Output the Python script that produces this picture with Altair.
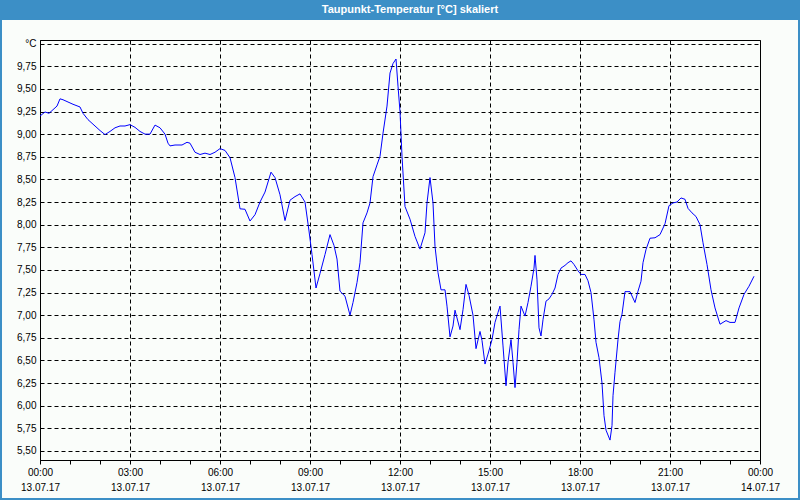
import altair as alt
import pandas as pd

TITLE = "Taupunkt-Temperatur [°C] skaliert"

# minutes after 13.07.17 00:00
minutes = [
    0, 10, 18, 24, 34, 40, 46, 56, 66, 80,
    86, 96, 110, 120, 130, 140, 150, 160, 170, 180,
    190, 200, 210, 220, 230, 240, 250, 256, 260, 270,
    284, 294, 300, 310, 320, 330, 340, 350, 360, 370,
    380, 390, 400, 410, 420, 430, 440, 450, 462, 470,
    480, 490, 500, 510, 520, 530, 538, 544, 552, 560,
    570, 580, 588, 594, 600, 610, 620, 626, 634, 640,
    646, 654, 660, 666, 674, 680, 686, 694, 700, 706,
    712, 716, 720, 724, 730, 740, 750, 760, 770, 774,
    780, 786, 790, 796, 802, 810, 814, 820, 826, 830,
    840, 846, 852, 858, 866, 872, 880, 884, 890, 896,
    904, 910, 916, 920, 926, 932, 936, 942, 946, 950,
    954, 958, 962, 970, 976, 982, 988, 990, 994, 998,
    1002, 1006, 1012, 1018, 1024, 1030, 1036, 1042, 1050, 1056,
    1062, 1068, 1076, 1082, 1090, 1096, 1102, 1108, 1112, 1118,
    1124, 1128, 1132, 1140, 1144, 1146, 1150, 1156, 1160, 1164,
    1170, 1180, 1190, 1196, 1202, 1206, 1212, 1220, 1230, 1240,
    1250, 1258, 1266, 1274, 1282, 1290, 1296, 1304, 1312, 1320,
    1326, 1334, 1342, 1350, 1360, 1372, 1380, 1390, 1398, 1408,
    1418, 1428,
]

dewpoint = [
    9.20, 9.245, 9.23, 9.26, 9.31, 9.39, 9.38, 9.355, 9.33, 9.30,
    9.23, 9.16, 9.09, 9.04, 8.995, 9.03, 9.07, 9.09, 9.09, 9.105,
    9.075, 9.03, 9.00, 9.00, 9.10, 9.07, 9.00, 8.90, 8.87, 8.88,
    8.88, 8.91, 8.90, 8.80, 8.775, 8.79, 8.775, 8.80, 8.84, 8.82,
    8.74, 8.52, 8.175, 8.17, 8.04, 8.11, 8.25, 8.36, 8.58, 8.52,
    8.33, 8.045, 8.27, 8.31, 8.34, 8.25, 7.93, 7.67, 7.30, 7.46,
    7.67, 7.89, 7.77, 7.62, 7.265, 7.21, 7.00, 7.14, 7.36, 7.58,
    8.02, 8.13, 8.24, 8.53, 8.66, 8.755, 9.01, 9.31, 9.675, 9.78,
    9.83, 9.53, 9.25, 8.755, 8.20, 8.06, 7.87, 7.73, 7.91, 8.24,
    8.52, 8.24, 7.76, 7.47, 7.28, 7.28, 7.10, 6.76, 6.88, 7.055,
    6.84, 7.06, 7.34, 7.22, 7.00, 6.63, 6.82, 6.72, 6.46, 6.57,
    6.73, 6.92, 7.03, 7.10, 6.66, 6.22, 6.48, 6.73, 6.48, 6.20,
    6.48, 6.84, 7.10, 6.99, 7.14, 7.32, 7.52, 7.66, 7.39, 6.86,
    6.77, 6.95, 7.155, 7.18, 7.23, 7.30, 7.45, 7.52, 7.55, 7.58,
    7.60, 7.56, 7.49, 7.45, 7.45, 7.38, 7.25, 6.95, 6.70, 6.53,
    6.25, 5.89, 5.73, 5.62, 5.78, 6.11, 6.37, 6.73, 6.93, 7.01,
    7.26, 7.26, 7.14, 7.265, 7.375, 7.58, 7.725, 7.85, 7.855, 7.89,
    8.01, 8.21, 8.24, 8.25, 8.295, 8.28, 8.18, 8.13, 8.09, 8.00,
    7.80, 7.56, 7.28, 7.08, 6.90, 6.94, 6.92, 6.92, 7.08, 7.23,
    7.32, 7.43,
]

y_ticks = [5.5, 5.75, 6.0, 6.25, 6.5, 6.75, 7.0, 7.25, 7.5, 7.75,
           8.0, 8.25, 8.5, 8.75, 9.0, 9.25, 9.5, 9.75, 10.0]
x_hours = list(range(0, 25))

assert len(minutes) == len(dewpoint)

start = pd.Timestamp("2017-07-13 00:00")
df = pd.DataFrame({
    "zeit": [(start + pd.Timedelta(minutes=m)).strftime("%Y-%m-%dT%H:%M:%S") for m in minutes],
    "wert": dewpoint,
})

x_values = [alt.DateTime(year=2017, month=7, date=13 + h // 24, hours=h % 24) for h in x_hours]

FONT = "Liberation Sans"
BLUE = "#3c8fc6"

line = alt.Chart(df).mark_line(color="#0000ff", strokeWidth=1, clip=True).encode(
    x=alt.X(
        "zeit:T",
        title=None,
        scale=alt.Scale(domain=[alt.DateTime(year=2017, month=7, date=13, hours=0),
                                alt.DateTime(year=2017, month=7, date=14, hours=0)]),
        axis=alt.Axis(
            values=x_values,
            labelExpr="hours(datum.value) % 3 === 0 ? [timeFormat(datum.value, '%H:%M'), timeFormat(datum.value, '%d.%m.%y')] : ''",
            labelOverlap=False,
            labelFlush=False,
            labelFont=FONT,
            labelFontSize=10,
            labelColor="#000000",
            labelLineHeight=15,
            labelPadding=3,
            tickSize=4,
            tickColor="#000000",
            domainColor="#000000",
            grid=True,
            gridColor="#000000",
            gridDash=[4, 3],
            gridOpacity={"condition": {"test": "hours(datum.value) % 3 === 0", "value": 1}, "value": 0},
        ),
    ),
    y=alt.Y(
        "wert:Q",
        title=None,
        scale=alt.Scale(domain=[5.4, 10.04], nice=False, zero=False),
        axis=alt.Axis(
            values=y_ticks,
            labelExpr="datum.value >= 9.99 ? '°C' : replace(format(datum.value, '.2f'), '.', ',')",
            labelFont=FONT,
            labelFontSize=10,
            labelColor="#000000",
            labelPadding=4,
            tickSize=0,
            domainColor="#000000",
            grid=True,
            gridColor="#000000",
            gridDash=[4, 3],
            gridOpacity=1,
        ),
    ),
)

one = alt.Data(values=[{"k": 1}])

border = alt.Chart(one).mark_rect(fillOpacity=0, stroke=BLUE, strokeWidth=2).encode(
    x=alt.value(-39), x2=alt.value(759), y=alt.value(-39), y2=alt.value(459)
)

bar = alt.Chart(one).mark_rect(color=BLUE).encode(
    x=alt.value(-40), x2=alt.value(760), y=alt.value(-40), y2=alt.value(-20)
)

title = alt.Chart(one).mark_text(
    text=TITLE, font=FONT, fontSize=11, fontWeight="bold", color="#ffffff",
    align="center", baseline="middle"
).encode(x=alt.value(370), y=alt.value(-30))

chart = alt.layer(line, border, bar, title).properties(
    width=720,
    height=420,
    autosize=alt.AutoSizeParams(type="none"),
    padding={"left": 40, "top": 40, "right": 40, "bottom": 40},
    background="#fafdfa",
).configure_view(stroke="#000000", strokeWidth=1)

chart.save("out.html", embed_options={"renderer": "svg", "actions": False})
